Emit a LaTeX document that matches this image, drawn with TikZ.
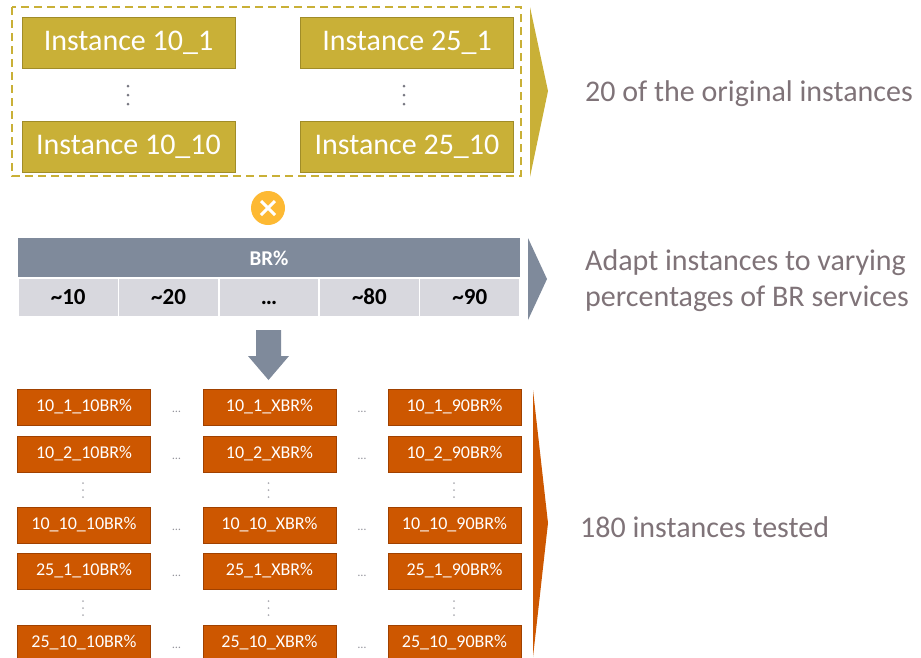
\documentclass[tikz,border=0pt]{standalone}
\usepackage{fontspec}
\setmainfont{Carlito}
\usetikzlibrary{positioning, calc}
\definecolor{gold}{RGB}{201,176,55}
\definecolor{golddark}{RGB}{160,140,40}
\definecolor{rust}{RGB}{205,87,0}
\definecolor{rustdark}{RGB}{160,65,0}
\definecolor{slate}{RGB}{127,138,155}
\definecolor{cellgray}{RGB}{216,216,222}
\definecolor{xorange}{RGB}{253,185,51}
\definecolor{txtgray}{RGB}{127,115,120}
\definecolor{dotgray}{RGB}{120,120,130}
\begin{document}
\begin{tikzpicture}[x=1pt, y=-1pt,
    goldbox/.style={draw=golddark, fill=gold, text=white, minimum width=213, minimum height=51, inner sep=0, font=\fontsize{30}{35}\selectfont},
    rustbox/.style={draw=rustdark, fill=rust, text=white, minimum width=133, minimum height=36, inner sep=0, font=\fontsize{18}{22}\selectfont},
    brcell/.style={draw=white, line width=1.5, fill=cellgray, minimum width=100.4, minimum height=39, inner sep=0, text height=15, text depth=1, font=\bfseries\fontsize{23}{27}\selectfont},
    golddot/.style={fill=dotgray},
    rustdot/.style={fill=dotgray!60},
    hdots/.style={text=dotgray!80, inner sep=0, font=\fontsize{12}{14}\selectfont},
    caption/.style={text=txtgray, anchor=west, inner sep=0, align=left, font=\fontsize{30}{36}\selectfont}]
      \useasboundingbox (0,0) rectangle (921,657);
      % original instances
      \draw[gold, line width=2, dash pattern=on 8 off 5] (12,7) rectangle (521,176);
      \node[goldbox] (i101) at (128.5,42.5) {Instance 10\_1};
      \node[goldbox] (i251) at (407,42.5) {Instance 25\_1};
      \node[goldbox] (i1010) at (128.5,146.5) {Instance 10\_10};
      \node[goldbox] (i2510) at (407,146.5) {Instance 25\_10};
      \fill[golddot] (128,86) circle[radius=1.5] (128,95) circle[radius=1.5] (128,104) circle[radius=1.5];
      \fill[golddot] (404,86) circle[radius=1.5] (404,95) circle[radius=1.5] (404,104) circle[radius=1.5];
      \fill[gold] (530,7) -- (548,91) -- (530,177) -- cycle;
      \node[caption] (orig) at (585,94) {20 of the original instances};
      % times
      \node[circle, fill=xorange, minimum size=34, inner sep=0] (times) at (268,208) {};
      \draw[white, line width=3] ($(times)+(-7,-7)$) -- ($(times)+(7,7)$);
      \draw[white, line width=3] ($(times)+(-7,7)$) -- ($(times)+(7,-7)$);
      % BR percentages
      \node[fill=slate, text=white, minimum width=502, minimum height=40, inner sep=0, font=\bfseries\fontsize{21}{25}\selectfont] (br) at (269,258) {BR\%};
      \node[brcell] (c10) at (68.2,297.5) {\textasciitilde10};
      \node[brcell] (c20) at (168.6,297.5) {\textasciitilde20};
      \node[brcell] (cdots) at (269,297.5) {\dots};
      \node[brcell] (c80) at (369.4,297.5) {\textasciitilde80};
      \node[brcell] (c90) at (469.8,297.5) {\textasciitilde90};
      \fill[slate] (528,238) -- (547,279) -- (528,320) -- cycle;
      \node[caption] (adapt) at (585,281) {Adapt instances to varying\\percentages of BR services};
      \fill[slate] (256,330) -- (281,330) -- (281,356) -- (289,356) -- (268.5,380) -- (248,356) -- (256,356) -- cycle;
      % tested instances
      \node[rustbox] (g11) at (84,407) {10\_1\_10BR\%};
      \node[rustbox] (g12) at (269.5,407) {10\_1\_XBR\%};
      \node[rustbox] (g13) at (454.5,407) {10\_1\_90BR\%};
      \node[rustbox] (g21) at (84,454) {10\_2\_10BR\%};
      \node[rustbox] (g22) at (269.5,454) {10\_2\_XBR\%};
      \node[rustbox] (g23) at (454.5,454) {10\_2\_90BR\%};
      \node[rustbox] (g31) at (84,525) {10\_10\_10BR\%};
      \node[rustbox] (g32) at (269.5,525) {10\_10\_XBR\%};
      \node[rustbox] (g33) at (454.5,525) {10\_10\_90BR\%};
      \node[rustbox] (g41) at (84,571) {25\_1\_10BR\%};
      \node[rustbox] (g42) at (269.5,571) {25\_1\_XBR\%};
      \node[rustbox] (g43) at (454.5,571) {25\_1\_90BR\%};
      \node[rustbox] (g51) at (84,643) {25\_10\_10BR\%};
      \node[rustbox] (g52) at (269.5,643) {25\_10\_XBR\%};
      \node[rustbox] (g53) at (454.5,643) {25\_10\_90BR\%};
      \fill[rustdot] (83,483) circle[radius=1] (83,490) circle[radius=1] (83,497) circle[radius=1];
      \fill[rustdot] (268.5,483) circle[radius=1] (268.5,490) circle[radius=1] (268.5,497) circle[radius=1];
      \fill[rustdot] (454,483) circle[radius=1] (454,490) circle[radius=1] (454,497) circle[radius=1];
      \fill[rustdot] (83,601) circle[radius=1] (83,608) circle[radius=1] (83,615) circle[radius=1];
      \fill[rustdot] (268.5,601) circle[radius=1] (268.5,608) circle[radius=1] (268.5,615) circle[radius=1];
      \fill[rustdot] (454,601) circle[radius=1] (454,608) circle[radius=1] (454,615) circle[radius=1];
      \node[hdots] (h11) at (176.5,412) {\dots};
      \node[hdots] (h12) at (362,412) {\dots};
      \node[hdots] (h21) at (176.5,459) {\dots};
      \node[hdots] (h22) at (362,459) {\dots};
      \node[hdots] (h31) at (176.5,530) {\dots};
      \node[hdots] (h32) at (362,530) {\dots};
      \node[hdots] (h41) at (176.5,576) {\dots};
      \node[hdots] (h42) at (362,576) {\dots};
      \node[hdots] (h51) at (176.5,648) {\dots};
      \node[hdots] (h52) at (362,648) {\dots};
      \fill[rust] (533,390) -- (548,523) -- (533,657) -- cycle;
      \node[caption] (tested) at (580,527) {180 instances tested};
\end{tikzpicture}
\end{document}
